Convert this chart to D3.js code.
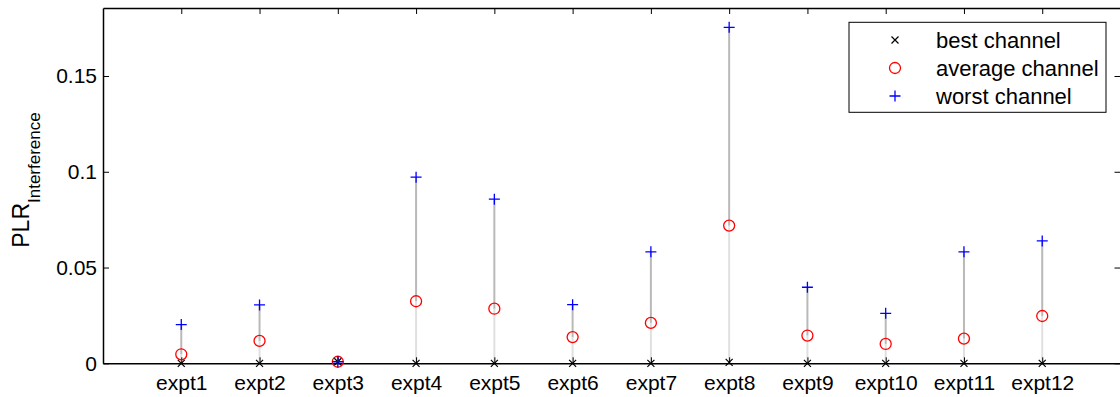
<!DOCTYPE html>
<html><head><meta charset="utf-8">
<script src="https://cdn.jsdelivr.net/npm/d3@7"></script>
<style>
html,body{margin:0;padding:0;background:#fff;}
svg{display:block;font-family:"Liberation Sans",Arial,sans-serif;}
</style></head>
<body>
<script>
const categories = ["expt1","expt2","expt3","expt4","expt5","expt6","expt7","expt8","expt9","expt10","expt11","expt12"];
const bestValues = [0, 0, 0.0008, 0, 0, 0, 0, 0.0005, 0, 0, 0, 0];
const averageValues = [0.0047, 0.0117, 0.0008, 0.0324, 0.0285, 0.0137, 0.0211, 0.0719, 0.0145, 0.0101, 0.0129, 0.0247];
const worstValues = [0.0202, 0.0305, 0.0008, 0.0972, 0.0857, 0.0306, 0.0582, 0.1754, 0.0397, 0.0261, 0.0582, 0.0639];
const yTicks = [0, 0.05, 0.1, 0.15];
const seriesNames = ["best channel", "average channel", "worst channel"];

(function () {
const W = 1120, H = 397;
const svg = d3.select("body").append("svg").attr("width", W).attr("height", H);
const pLeft = 103, pRight = 1120.5, pTop = 8, pBottom = 363.3;

const x = d3.scaleLinear().domain([0, categories.length + 1]).range([pLeft, pRight]);
const y = d3.scaleLinear().domain([0, 0.1855]).range([pBottom, pTop]);

// whiskers
const g = svg.append("g");
categories.forEach((c, i) => {
  const cx = x(i + 1);
  g.append("line").attr("x1", cx).attr("x2", cx)
    .attr("y1", y(bestValues[i])).attr("y2", y(averageValues[i]))
    .attr("stroke", "#e0e0e0").attr("stroke-width", 2);
  g.append("line").attr("x1", cx).attr("x2", cx)
    .attr("y1", y(averageValues[i])).attr("y2", y(worstValues[i]))
    .attr("stroke", "#b9b9b9").attr("stroke-width", 2);
});

// axes
const axLeft = d3.axisLeft(y).tickValues(yTicks).tickSizeInner(-6).tickSizeOuter(0).tickPadding(6)
  .tickFormat(d => d === 0 ? "0" : String(d));
const axRight = d3.axisRight(y).tickValues(yTicks).tickSizeInner(-6).tickSizeOuter(0).tickFormat("");
const axBottom = d3.axisBottom(x).tickValues(d3.range(1, categories.length + 1)).tickSizeInner(-6).tickSizeOuter(0).tickPadding(12)
  .tickFormat(d => categories[d - 1]);
const axTop = d3.axisTop(x).tickValues(d3.range(1, categories.length + 1)).tickSizeInner(-6).tickSizeOuter(0).tickFormat("");

function style(sel) {
  sel.select(".domain").attr("stroke", "#000").attr("stroke-width", 1.5);
  sel.selectAll(".tick line").attr("stroke", "#000").attr("stroke-width", 1);
  sel.selectAll(".tick text").attr("font-size", 21).attr("fill", "#000")
    .attr("font-family", "'Liberation Sans', Arial, sans-serif");
}
svg.append("g").attr("transform", `translate(${pLeft},0)`).call(axLeft).call(style);
svg.append("g").attr("transform", `translate(${pRight},0)`).call(axRight).call(style);
svg.append("g").attr("transform", `translate(0,${pBottom})`).call(axBottom).call(style);
svg.append("g").attr("transform", `translate(0,${pTop})`).call(axTop).call(style);

// markers
const m = svg.append("g");
function cross(sel, cx, cy, s) {
  sel.append("path").attr("d", `M${cx-s},${cy-s}L${cx+s},${cy+s}M${cx-s},${cy+s}L${cx+s},${cy-s}`)
    .attr("stroke", "#000").attr("stroke-width", 1.2).attr("fill", "none");
}
function plus(sel, cx, cy, s) {
  sel.append("path").attr("d", `M${cx-s},${cy}L${cx+s},${cy}M${cx},${cy-s}L${cx},${cy+s}`)
    .attr("stroke", "#0000ff").attr("stroke-width", 1.3).attr("fill", "none");
}
function circ(sel, cx, cy, r) {
  sel.append("circle").attr("cx", cx).attr("cy", cy).attr("r", r)
    .attr("stroke", "#ff0000").attr("stroke-width", 1.3).attr("fill", "none");
}
categories.forEach((c, i) => {
  const cx = x(i + 1);
  circ(m, cx, y(averageValues[i]), 5.5);
  cross(m, cx, y(bestValues[i]), 3.5);
  plus(m, cx, y(worstValues[i]), 5.5);
});

// y label
const yl = svg.append("text").attr("transform", `translate(29,180) rotate(-90)`)
  .attr("text-anchor", "middle").attr("font-size", 23).attr("fill", "#000");
yl.append("tspan").text("PLR");
yl.append("tspan").attr("font-size", 17).attr("dy", 11).text("Interference");

// legend
const lg = svg.append("g");
lg.append("rect").attr("x", 849).attr("y", 22.3).attr("width", 257).attr("height", 90)
  .attr("fill", "#fff").attr("stroke", "#000").attr("stroke-width", 1);
const rowY = [40, 68, 96];
cross(lg, 895, rowY[0], 3.5);
circ(lg, 895, rowY[1], 5.5);
plus(lg, 895, rowY[2], 5.5);
seriesNames.forEach((n, i) => {
  lg.append("text").attr("x", 936).attr("y", rowY[i]).attr("dy", "0.35em")
    .attr("font-size", 22).attr("fill", "#000").text(n);
});
})();
</script>
</body></html>
